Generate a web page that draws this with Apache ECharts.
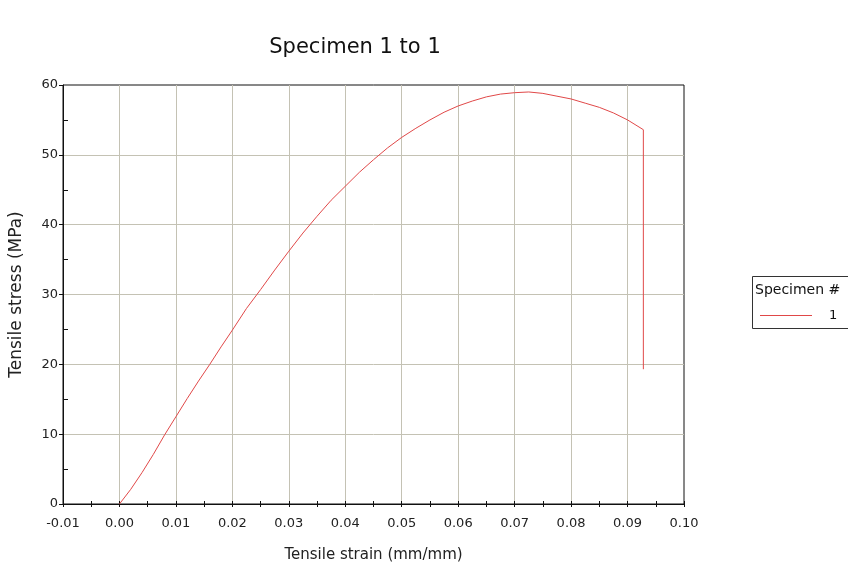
<!DOCTYPE html>
<html>
<head>
<meta charset="utf-8">
<script src="https://cdn.jsdelivr.net/npm/echarts@6/dist/echarts.min.js"></script>
<style>
  html, body { margin: 0; padding: 0; background: #fff; }
  #chart { width: 848px; height: 572px; }
</style>
</head>
<body>
<div id="chart"></div>
<script>
// Tensile test, specimen 1: strain (mm/mm) against stress (MPa)
const strain = [
  0, 0.002, 0.004, 0.006, 0.008, 0.010, 0.012, 0.014, 0.016, 0.018, 0.020,
  0.0225, 0.025, 0.0275, 0.030, 0.0325, 0.035, 0.0375, 0.040, 0.0425, 0.045,
  0.0475, 0.050, 0.0525, 0.055, 0.0575, 0.060, 0.0625, 0.065, 0.0675, 0.070,
  0.0725, 0.075, 0.0775, 0.080, 0.0825, 0.085, 0.0875, 0.090, 0.0928, 0.0928
];
const stress = [
  0, 2.1, 4.5, 7.1, 9.9, 12.5, 15.1, 17.6, 20.0, 22.5, 24.9,
  28.0, 30.7, 33.5, 36.2, 38.8, 41.2, 43.5, 45.5, 47.5, 49.3,
  51.0, 52.5, 53.8, 55.0, 56.1, 57.0, 57.7, 58.3, 58.7, 58.9,
  59.0, 58.8, 58.4, 58.0, 57.4, 56.8, 56.0, 55.0, 53.6, 19.3
];
const seriesName = '1';
const chartTitle = 'Specimen 1 to 1';
const legendTitle = 'Specimen #';
const xName = 'Tensile strain (mm/mm)';
const yName = 'Tensile stress (MPa)';

// tick positions every 0.005 along strain, and the in-between stress ticks
const xTicks = [];
for (let i = -2; i <= 20; i++) xTicks.push(+(i * 0.005).toFixed(3));
const xHalfTicks = xTicks.filter((v, i) => i % 2 === 1);
const yMinorTicks = [5, 15, 25, 35, 45, 55];

const FONT = 'DejaVu Sans';
const INK = '#111';
const GRID_COLOR = '#c4c2b4';
const chart = echarts.init(document.getElementById('chart'), null, { renderer: 'canvas' });

const tickOnlyAxis = (extra) => Object.assign({
  type: 'value',
  axisLine: { show: false, onZero: false },
  axisLabel: { show: false },
  splitLine: { show: false }
}, extra);

chart.setOption({
  animation: false,
  backgroundColor: '#ffffff',
  title: {
    text: chartTitle,
    left: 350, top: 32, textAlign: 'center',
    textStyle: { fontFamily: FONT, fontSize: 21, fontWeight: 'normal', color: INK }
  },
  grid: {
    left: 62, right: 164, top: 85, bottom: 68,
    show: true, borderColor: INK, borderWidth: 1, backgroundColor: 'transparent'
  },
  legend: {
    data: [{ name: seriesName, icon: 'rect' }],
    left: 755, top: 304,
    itemWidth: 52, itemHeight: 1, itemGap: 0,
    textStyle: { fontFamily: FONT, fontSize: 13, color: INK, padding: [0, 0, 0, 12] }
  },
  graphic: [
    {
      type: 'rect', left: 752, top: 276,
      shape: { width: 100, height: 52 },
      style: { fill: 'transparent', stroke: '#333', lineWidth: 1 }
    },
    {
      type: 'text', left: 755, top: 283,
      style: { text: legendTitle, fontFamily: FONT, fontSize: 14, fill: INK }
    }
  ],
  xAxis: [
    {
      type: 'value', min: -0.01, max: 0.10, interval: 0.01,
      name: xName, nameLocation: 'middle', nameGap: 44,
      nameTextStyle: { fontFamily: FONT, fontSize: 15, color: '#222' },
      axisLine: { show: true, onZero: false, lineStyle: { color: INK, width: 1 } },
      axisTick: { show: true, length: 3, lineStyle: { color: INK } },
      axisLabel: {
        margin: 13, fontFamily: FONT, fontSize: 13, color: '#222',
        formatter: v => v.toFixed(2)
      },
      splitLine: { show: true, showMinLine: false, showMaxLine: false,
        lineStyle: { color: GRID_COLOR, width: 1 } }
    },
    tickOnlyAxis({
      min: -0.01, max: 0.10, position: 'bottom',
      axisTick: { show: true, length: 3, customValues: xHalfTicks, lineStyle: { color: INK } }
    }),
    tickOnlyAxis({
      min: -0.01, max: 0.10, position: 'bottom',
      axisTick: { show: true, inside: true, length: 3, customValues: xTicks, lineStyle: { color: INK } }
    })
  ],
  yAxis: [
    {
      type: 'value', min: 0, max: 60, interval: 10,
      name: yName, nameLocation: 'middle', nameGap: 38, nameRotate: 90,
      nameTextStyle: { fontFamily: FONT, fontSize: 17, color: '#222' },
      axisLine: { show: true, onZero: false, lineStyle: { color: INK, width: 1 } },
      axisTick: { show: true, length: 4, lineStyle: { color: INK } },
      axisLabel: { margin: 5, fontFamily: FONT, fontSize: 13, color: '#222' },
      splitLine: { show: true, showMinLine: false, showMaxLine: false,
        lineStyle: { color: GRID_COLOR, width: 1 } }
    },
    tickOnlyAxis({
      min: 0, max: 60, position: 'left',
      axisTick: { show: true, inside: true, length: 5, customValues: yMinorTicks, lineStyle: { color: INK } }
    })
  ],
  series: [
    {
      name: seriesName,
      type: 'line',
      xAxisIndex: 0, yAxisIndex: 0,
      data: strain.map((s, i) => [s, stress[i]]),
      showSymbol: false, symbol: 'none', smooth: false,
      lineStyle: { color: '#e04848', width: 1 },
      itemStyle: { color: '#e04848' },
      z: 5
    }
  ]
});
</script>
</body>
</html>
